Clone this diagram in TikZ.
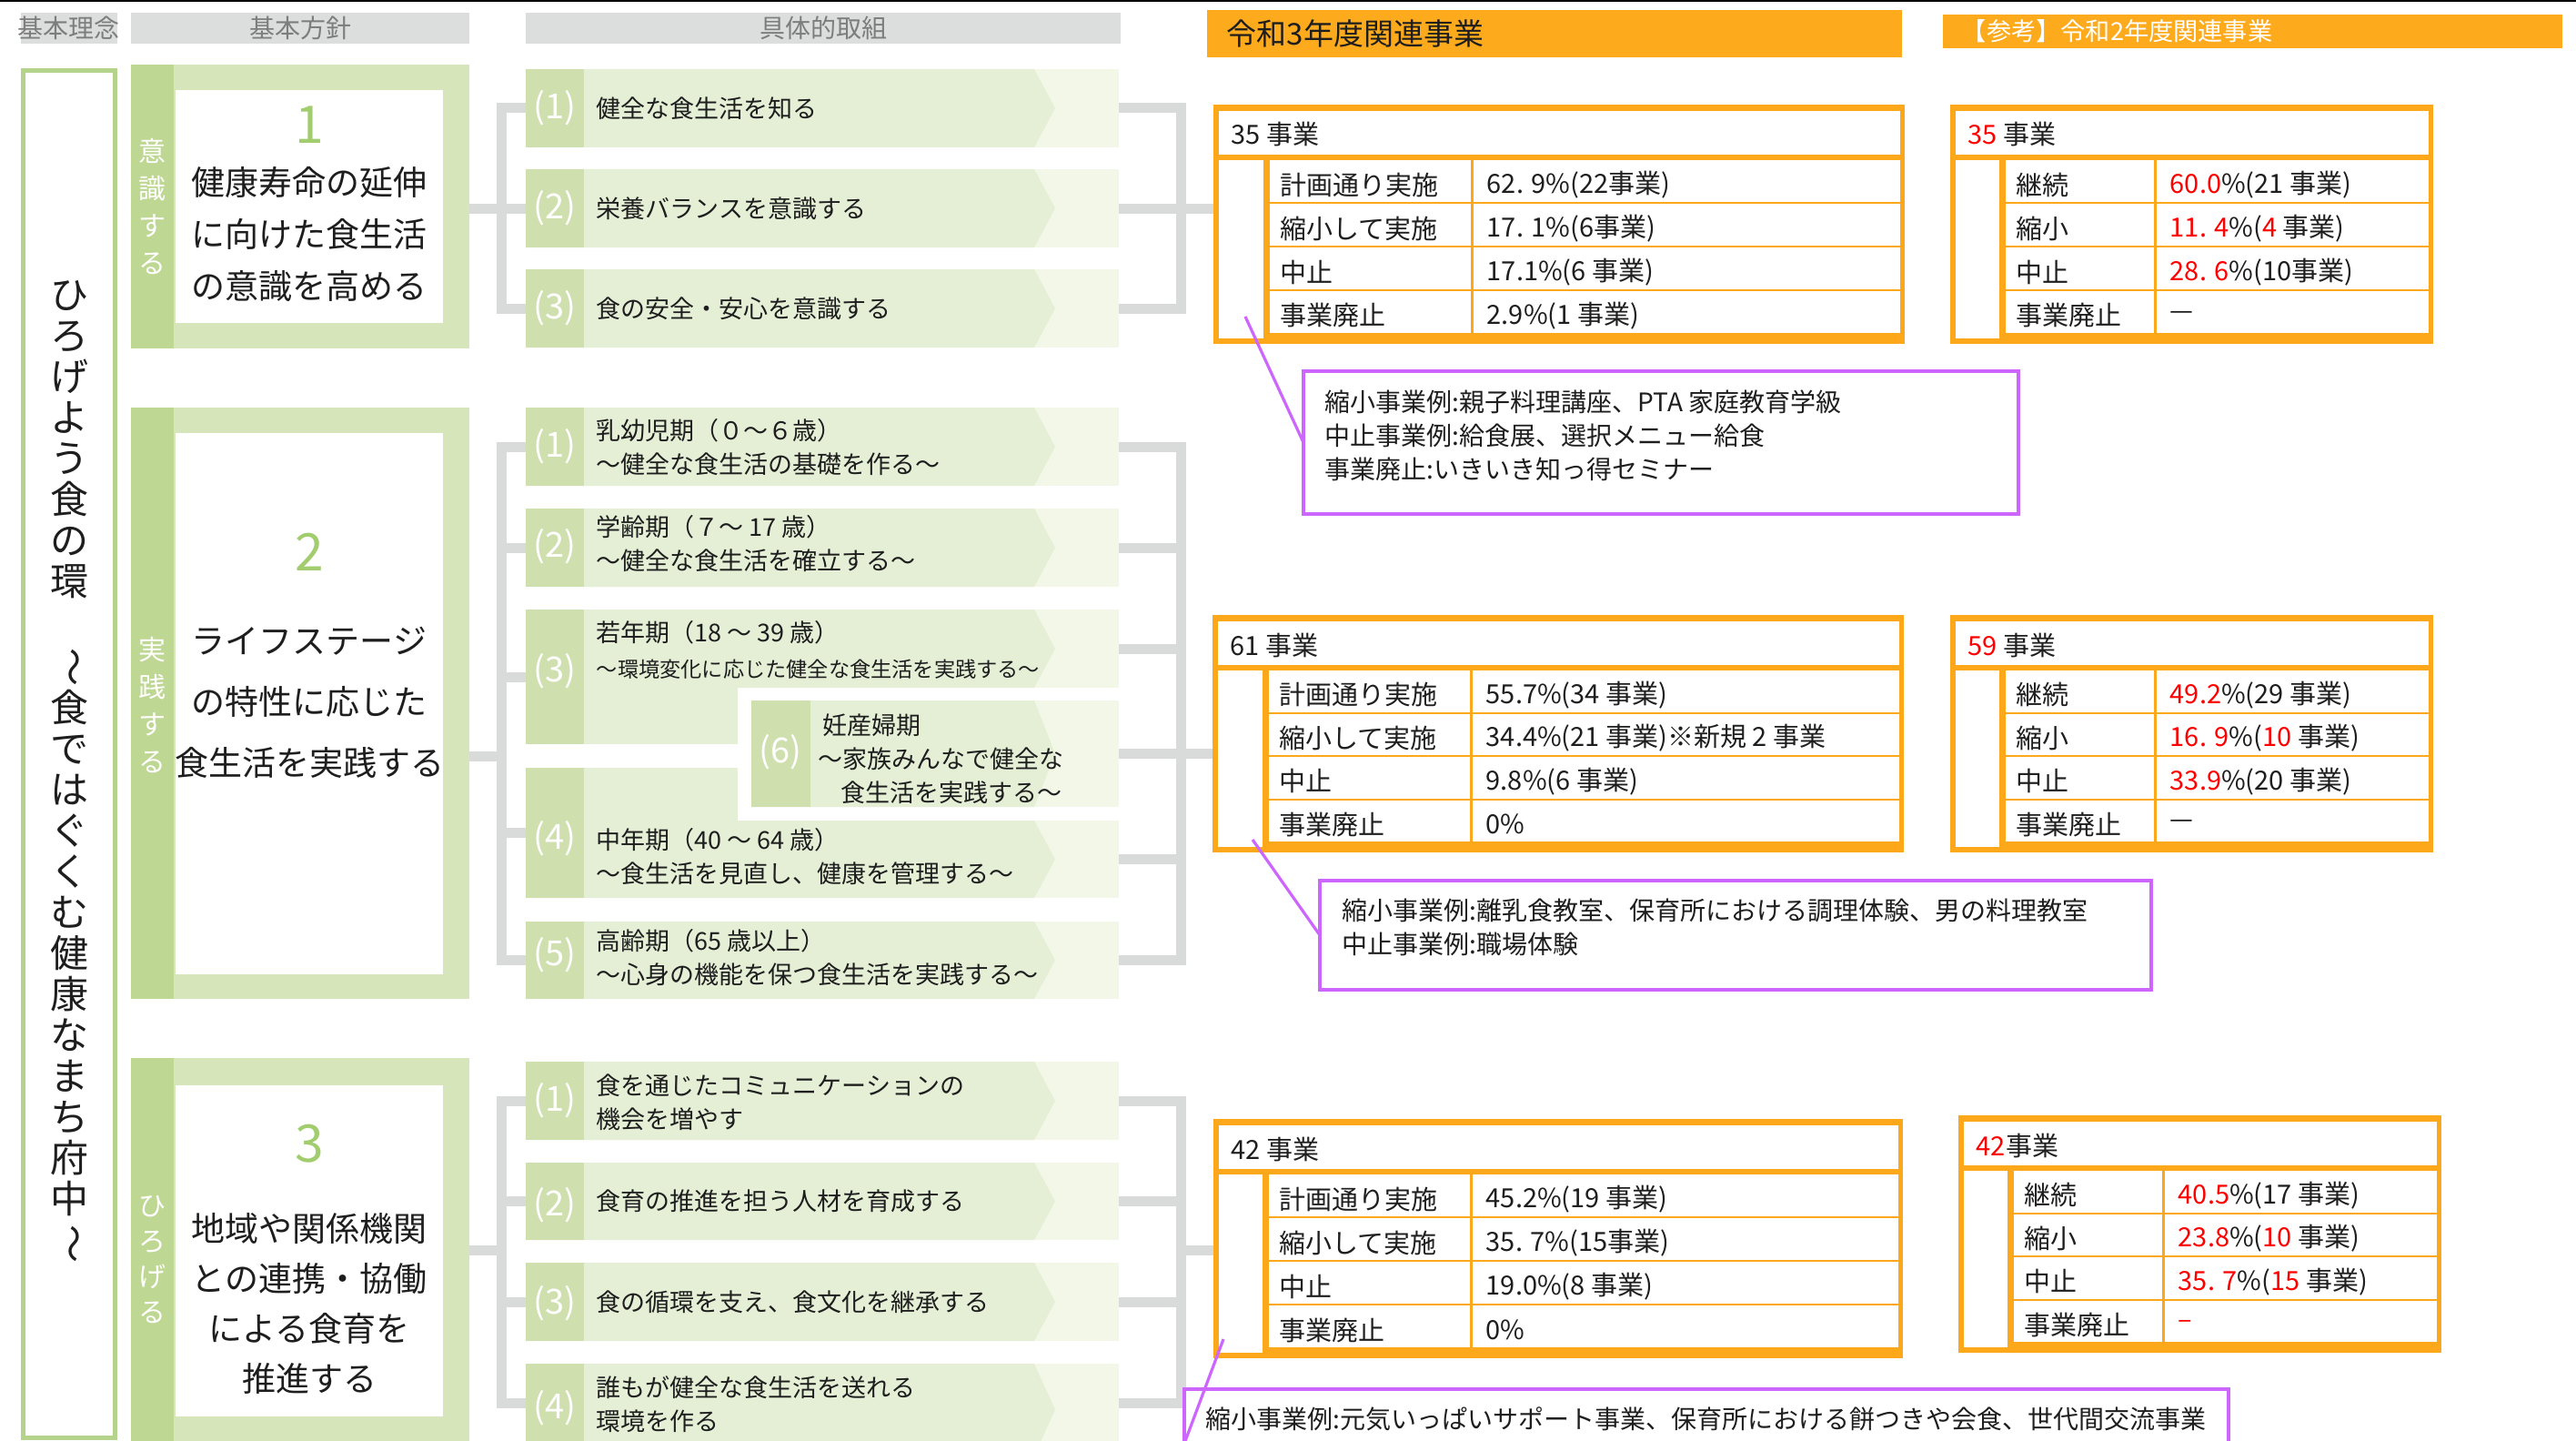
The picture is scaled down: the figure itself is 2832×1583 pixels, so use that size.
\documentclass[tikz,border=0pt]{standalone}
\usepackage{fontspec}
\usepackage{graphicx}
\setmainfont{Noto Sans CJK JP}
\usetikzlibrary{calc}
\definecolor{frameG}{HTML}{B4D38B}
\definecolor{stripG}{HTML}{BED792}
\definecolor{boxG}{HTML}{D6E6BA}
\definecolor{numG}{HTML}{A2CD6E}
\definecolor{itStrip}{HTML}{CFE0AE}
\definecolor{itBody}{HTML}{E4EFD6}
\definecolor{itTip}{HTML}{F2F7E8}
\definecolor{connG}{HTML}{D9DADA}
\definecolor{hdrG}{HTML}{DCDDDD}
\definecolor{hdrT}{HTML}{7D7D7D}
\definecolor{orgA}{HTML}{FDAA1C}
\definecolor{orgB}{HTML}{FDA71A}
\definecolor{purp}{HTML}{CC66FF}
\definecolor{redT}{HTML}{FF0000}
\definecolor{txt}{HTML}{1E1E1E}
\newcommand\myfs[2]{\fontsize{#1}{#2}\selectfont}
\newcommand\rd[1]{\textcolor{redT}{#1}}
\newcommand\vtilde{\rotatebox[origin=c]{-90}{～}}
\tikzset{
  slot/.style 2 args={rectangle, inner sep=0pt, outer sep=0pt,
    minimum width={(#1)*0.25pt}, minimum height={(#2)*0.25pt}, anchor=north west},
  conn/.style={draw=connG, line width=2.75pt},
  pline/.style={draw=purp, line width=0.8pt},
  itxt/.style={anchor=west, inner sep=0pt, align=left, font=\myfs{6.75pt}{9.25pt}, text=txt},
  inum/.style={inner sep=0pt, font=\myfs{9.5pt}{9.5pt}, text=white},
  ttxt/.style={anchor=west, inner sep=0pt, font=\myfs{7.25pt}{8pt}, text=txt},
  ctxt/.style={anchor=west, inner sep=0pt, align=left, font=\myfs{7pt}{9.25pt}, text=txt},
  htxt/.style={inner sep=0pt, font=\myfs{7pt}{8pt}, text=hdrT},
  btxt/.style={inner sep=0pt, align=center, text=txt},
  bnum/.style={inner sep=0pt, font=\myfs{14.25pt}{15pt}, text=numG},
  stxt/.style={inner sep=0pt, align=center, text=white},
}
\newcommand\itemfill[4]{%
  \fill[itTip] (#1,#2) rectangle (#3,#4);
  \pgfmathsetmacro\ymid{(#2+#4)/2}
  \fill[itBody] (#1,#2) -- (1137,#2) -- (1160,\ymid) -- (1137,#4) -- (#1,#4) -- cycle;
}
\newcommand\tbl[8]{%
  \fill[orgB] (#2,#3) rectangle (#4,#5);
  \fill[white] ({#2+6},{#3+7}) rectangle ({#4-5},{#3+55});
  \fill[white] ({#2+6},{#3+61}) rectangle (#6,{#5-6});
  \pgfmathsetmacro\rh{(#5-#3-79)/4}
  \foreach \k in {0,1,2,3}{%
    \pgfmathsetmacro\yt{#3+61+\k*(\rh+2)}%
    \pgfmathsetmacro\yb{\yt+\rh}%
    \fill[white] ({#6+7},\yt) rectangle (#7,\yb);
    \fill[white] ({#7+3},\yt) rectangle ({#4-5},\yb);
  }
  \node[slot={#4-#2}{#5-#3}] (#1) at (#2,#3) {};
  \node[ttxt] (#1h) at ({#2+19},{#3+33}) {#8};
}
\newcommand\trow[8]{%
  \pgfmathsetmacro\rh{(#3-#2-79)/4}
  \pgfmathsetmacro\yc{#2+61+#6*(\rh+2)+\rh/2+4}
  \node[ttxt] (#1l#6) at ({#4+18},\yc) {#7};
  \node[ttxt] (#1v#6) at ({#5+17},\yc) {#8};
}
\begin{document}
\begin{tikzpicture}[x=0.25pt,y=-0.25pt]
\useasboundingbox (0,0) rectangle (2832,1583);
\fill[white] (0,0) rectangle (2832,1583);
\fill[black] (0,0) rectangle (2832,2.5);

% ---------- column headers ----------
\node[slot={106}{34}, fill=hdrG] (h1) at (23,14) {};
\node[htxt] (h1t) at (h1.center) {基本理念};
\node[slot={372}{34}, fill=hdrG] (h2) at (144,14) {};
\node[htxt] (h2t) at (h2.center) {基本方針};
\node[slot={654}{34}, fill=hdrG] (h3) at (578,14) {};
\node[htxt] (h3t) at (h3.center) {具体的取組};
\node[slot={764}{52}, fill=orgA] (oh1) at (1327,11) {};
\node[anchor=west, inner sep=0pt, font=\myfs{8.25pt}{9pt}, text=txt] (oh1t) at (1348,37) {令和3年度関連事業};
\node[slot={681}{37}, fill=orgA] (oh2) at (2136,16) {};
\node[anchor=west, inner sep=0pt, font=\myfs{6.8pt}{7.5pt}, text=white] (oh2t) at (2156,34.5) {【参考】令和2年度関連事業};

% ---------- basic philosophy frame ----------
\draw[frameG, line width=1.25pt] (25.5,77.5) rectangle (126.5,1580.5);
\node[inner sep=0pt, align=center, font=\myfs{10.5pt}{11.25pt}, text=txt] (vt) at (76,848.5)
  {ひ\\ろ\\げ\\よ\\う\\食\\の\\環\\\phantom{環}\\\vtilde\\食\\で\\は\\ぐ\\く\\む\\健\\康\\な\\ま\\ち\\府\\中\\\vtilde};

% ---------- policy boxes ----------
\fill[boxG] (144,71) rectangle (516,383);
\fill[stripG] (144,71) rectangle (191,383);
\fill[white] (193,99) rectangle (487,355);
\node[slot={372}{312}] (b1) at (144,71) {};
\fill[boxG] (144,448) rectangle (516,1098);
\fill[stripG] (144,448) rectangle (191,1098);
\fill[white] (193,476) rectangle (487,1071);
\node[slot={372}{650}] (b2) at (144,448) {};
\fill[boxG] (144,1163) rectangle (516,1590);
\fill[stripG] (144,1163) rectangle (191,1590);
\fill[white] (193,1193) rectangle (487,1557);
\node[slot={372}{422}] (b3) at (144,1163) {};

\node[bnum] (n1) at (340,137) {1};
\node[bnum] (n2) at (340,607) {2};
\node[bnum] (n3) at (340,1257) {3};
\node[btxt, font=\myfs{9.25pt}{14.25pt}] (bt1) at (340,257.5) {健康寿命の延伸\\に向けた食生活\\の意識を高める};
\node[btxt, font=\myfs{9.25pt}{16.75pt}] (bt2) at (340,772) {ライフステージ\\の特性に応じた\\食生活を実践する};
\node[btxt, font=\myfs{9.25pt}{13.75pt}] (bt3) at (340,1433) {地域や関係機関\\との連携・協働\\による食育を\\推進する};
\node[stxt, font=\myfs{7.5pt}{10.25pt}] (s1) at (167,227) {意\\識\\す\\る};
\node[stxt, font=\myfs{7.5pt}{10.25pt}] (s2) at (167,775) {実\\践\\す\\る};
\node[stxt, font=\myfs{7.5pt}{9.75pt}] (s3) at (167,1385) {ひ\\ろ\\げ\\る};

% ---------- item slots ----------
\node[slot={652}{86}] (g1a) at (578,76) {};
\node[slot={652}{86}] (g1b) at (578,186) {};
\node[slot={652}{86}] (g1c) at (578,296) {};
\node[slot={652}{86}] (g2a) at (578,448) {};
\node[slot={652}{86}] (g2b) at (578,559) {};
\node[slot={652}{148}] (g2c) at (578,670) {};
\node[slot={404}{117}] (g2f) at (826,770) {};
\node[slot={652}{143}] (g2d) at (578,844) {};
\node[slot={652}{85}] (g2e) at (578,1013) {};
\node[slot={652}{86}] (g3a) at (578,1167) {};
\node[slot={652}{85}] (g3b) at (578,1278) {};
\node[slot={652}{86}] (g3c) at (578,1388) {};
\node[slot={652}{86}] (g3d) at (578,1499) {};
\coordinate (g2cR) at ($(g2c.north east)+(0,43)$);
\coordinate (g2dR) at ($(g2d.south east)+(0,-42.5)$);

% ---------- tables (slots first for connectors) ----------
\tbl{t1}{1334}{115}{2094}{378}{1389}{1617}{35 事業}
\tbl{t2}{2144}{115}{2675}{378}{2198}{2368}{\rd{35} 事業}
\tbl{t61}{1333}{676}{2093}{937}{1388}{1616}{61 事業}
\tbl{t59}{2144}{676}{2675}{937}{2198}{2368}{\rd{59} 事業}
\tbl{t42}{1334}{1230}{2092}{1493}{1388}{1616}{42 事業}
\tbl{t42r}{2153}{1226}{2684}{1487}{2207}{2377}{\rd{42}事業}

% ---------- gray connectors ----------
\coordinate (L1) at (551,229);
\coordinate (R1) at (1298,229);
\coordinate (L2) at (551,831);
\coordinate (R2) at (1298,831);
\coordinate (L3) at (551,1374);
\coordinate (R3) at (1298,1374);
\draw[conn] (g1a.west) -- (g1a.west -| L1) -- (g1c.west -| L1) -- (g1c.west);
\draw[conn] (b1.east |- g1b.west) -- (g1b.west);
\draw[conn] (g1a.east) -- (g1a.east -| R1) -- (g1c.east -| R1) -- (g1c.east);
\draw[conn] (g1b.east) -- (g1b.east -| t1.west);

\draw[conn] (g2a.west) -- (g2a.west -| L2) -- (g2e.west -| L2) -- (g2e.west);
\draw[conn] (g2b.west -| L2) -- (g2b.west);
\draw[conn] (g2c.west -| L2) -- (g2c.west);
\draw[conn] (g2d.west -| L2) -- (g2d.west);
\draw[conn] (b2.east |- L2) -- (L2);
\draw[conn] (g2a.east) -- (g2a.east -| R2) -- (g2e.east -| R2) -- (g2e.east);
\draw[conn] (g2b.east) -- (g2b.east -| R2);
\draw[conn] (g2cR) -- (g2cR -| R2);
\draw[conn] (g2dR) -- (g2dR -| R2);
\draw[conn] (g2f.east) -- (g2f.east -| t61.west);

\draw[conn] (g3a.west) -- (g3a.west -| L3) -- (g3d.west -| L3) -- (g3d.west);
\draw[conn] (g3b.west -| L3) -- (g3b.west);
\draw[conn] (g3c.west -| L3) -- (g3c.west);
\draw[conn] (b3.east |- L3) -- (L3);
\draw[conn] (g3a.east) -- (g3a.east -| R3) -- (g3d.east -| R3) -- (g3d.east);
\draw[conn] (g3b.east) -- (g3b.east -| R3);
\draw[conn] (g3c.east) -- (g3c.east -| R3);
\draw[conn] (R3) -- (R3 -| t42.west);

% ---------- item shapes ----------
\itemfill{578}{76}{1230}{162}
\itemfill{578}{186}{1230}{272}
\itemfill{578}{296}{1230}{382}
\fill[itStrip] (578,76) rectangle (642,162);
\fill[itStrip] (578,186) rectangle (642,272);
\fill[itStrip] (578,296) rectangle (642,382);

\itemfill{578}{448}{1230}{534}
\itemfill{578}{559}{1230}{645}
\itemfill{578}{670}{1230}{756}
\fill[itBody] (578,755) rectangle (811,818);
\itemfill{826}{770}{1230}{887}
\fill[itBody] (578,844) rectangle (811,903);
\itemfill{578}{902}{1230}{987}
\itemfill{578}{1013}{1230}{1098}
\fill[itStrip] (578,448) rectangle (642,534);
\fill[itStrip] (578,559) rectangle (642,645);
\fill[itStrip] (578,670) rectangle (642,818);
\fill[itStrip] (826,770) rectangle (891,887);
\fill[itStrip] (578,844) rectangle (642,987);
\fill[itStrip] (578,1013) rectangle (642,1098);

\itemfill{578}{1167}{1230}{1253}
\itemfill{578}{1278}{1230}{1363}
\itemfill{578}{1388}{1230}{1474}
\itemfill{578}{1499}{1230}{1600}
\fill[itStrip] (578,1167) rectangle (642,1253);
\fill[itStrip] (578,1278) rectangle (642,1363);
\fill[itStrip] (578,1388) rectangle (642,1474);
\fill[itStrip] (578,1499) rectangle (642,1600);

% ---------- item numbers ----------
\node[inum] (k11) at (610,119) {(1)};
\node[inum] (k12) at (610,229) {(2)};
\node[inum] (k13) at (610,339) {(3)};
\node[inum] (k21) at (610,491) {(1)};
\node[inum] (k22) at (610,601) {(2)};
\node[inum] (k23) at (610,738) {(3)};
\node[inum] (k26) at (858,827) {(6)};
\node[inum] (k24) at (610,922) {(4)};
\node[inum] (k25) at (610,1050) {(5)};
\node[inum] (k31) at (610,1210) {(1)};
\node[inum] (k32) at (610,1325) {(2)};
\node[inum] (k33) at (610,1433) {(3)};
\node[inum] (k34) at (610,1548) {(4)};

% ---------- item texts ----------
\node[itxt] (g1at) at (655,119) {健全な食生活を知る};
\node[itxt] (g1bt) at (655,229) {栄養バランスを意識する};
\node[itxt] (g1ct) at (655,339) {食の安全・安心を意識する};
\node[itxt] (g2at) at (655,491.5) {乳幼児期（０～６歳）\\～健全な食生活の基礎を作る～};
\node[itxt] (g2bt) at (655,598) {学齢期（７～ 17 歳）\\～健全な食生活を確立する～};
\node[itxt] (g2ct1) at (655,695) {若年期（18 ～ 39 歳）};
\node[itxt, font=\myfs{5.8pt}{7pt}] (g2ct2) at (655,736) {～環境変化に応じた健全な食生活を実践する～};
\node[itxt] (g2ft) at (899,834) {\hspace{1.2pt}妊産婦期\\～家族みんなで健全な\\\hspace{6.2pt}食生活を実践する～};
\node[itxt] (g2dt) at (655,941.5) {中年期（40 ～ 64 歳）\\～食生活を見直し、健康を管理する～};
\node[itxt] (g2et) at (655,1052.5) {高齢期（65 歳以上）\\～心身の機能を保つ食生活を実践する～};
\node[itxt] (g3at) at (655,1211.5) {食を通じたコミュニケーションの\\機会を増やす};
\node[itxt] (g3bt) at (655,1320.5) {食育の推進を担う人材を育成する};
\node[itxt] (g3ct) at (655,1431) {食の循環を支え、食文化を継承する};
\node[itxt] (g3dt) at (655,1543.5) {誰もが健全な食生活を送れる\\環境を作る};

% ---------- table rows ----------
\trow{t1}{115}{378}{1389}{1617}{0}{計画通り実施}{62. 9\%(22事業)}
\trow{t1}{115}{378}{1389}{1617}{1}{縮小して実施}{17. 1\%(6事業)}
\trow{t1}{115}{378}{1389}{1617}{2}{中止}{17.1\%(6 事業)}
\trow{t1}{115}{378}{1389}{1617}{3}{事業廃止}{2.9\%(1 事業)}
\trow{t2}{115}{378}{2198}{2368}{0}{継続}{\rd{60.0}\%(21 事業)}
\trow{t2}{115}{378}{2198}{2368}{1}{縮小}{\rd{11. 4}\%(\rd{4} 事業)}
\trow{t2}{115}{378}{2198}{2368}{2}{中止}{\rd{28. 6}\%(10事業)}
\trow{t2}{115}{378}{2198}{2368}{3}{事業廃止}{—}
\trow{t61}{676}{937}{1388}{1616}{0}{計画通り実施}{55.7\%(34 事業)}
\trow{t61}{676}{937}{1388}{1616}{1}{縮小して実施}{34.4\%(21 事業)※新規 2 事業}
\trow{t61}{676}{937}{1388}{1616}{2}{中止}{9.8\%(6 事業)}
\trow{t61}{676}{937}{1388}{1616}{3}{事業廃止}{0\%}
\trow{t59}{676}{937}{2198}{2368}{0}{継続}{\rd{49.2}\%(29 事業)}
\trow{t59}{676}{937}{2198}{2368}{1}{縮小}{\rd{16. 9}\%(\rd{10} 事業)}
\trow{t59}{676}{937}{2198}{2368}{2}{中止}{\rd{33.9}\%(20 事業)}
\trow{t59}{676}{937}{2198}{2368}{3}{事業廃止}{—}
\trow{t42}{1230}{1493}{1388}{1616}{0}{計画通り実施}{45.2\%(19 事業)}
\trow{t42}{1230}{1493}{1388}{1616}{1}{縮小して実施}{35. 7\%(15事業)}
\trow{t42}{1230}{1493}{1388}{1616}{2}{中止}{19.0\%(8 事業)}
\trow{t42}{1230}{1493}{1388}{1616}{3}{事業廃止}{0\%}
\trow{t42r}{1226}{1487}{2207}{2377}{0}{継続}{\rd{40.5}\%(17 事業)}
\trow{t42r}{1226}{1487}{2207}{2377}{1}{縮小}{\rd{23.8}\%(\rd{10} 事業)}
\trow{t42r}{1226}{1487}{2207}{2377}{2}{中止}{\rd{35. 7}\%(\rd{15} 事業)}
\trow{t42r}{1226}{1487}{2207}{2377}{3}{事業廃止}{\rd{–}}

% ---------- callouts ----------
\node[slot={786}{157}, draw=purp, line width=1pt] (c1) at (1433,408) {};
\node[ctxt] (c1t) at (1456,479) {縮小事業例:親子料理講座、PTA 家庭教育学級\\中止事業例:給食展、選択メニュー給食\\事業廃止:いきいき知っ得セミナー};
\node[slot={914}{120}, draw=purp, line width=1pt] (c2) at (1451,968) {};
\node[ctxt] (c2t) at (1475,1019) {縮小事業例:離乳食教室、保育所における調理体験、男の料理教室\\中止事業例:職場体験};
\node[slot={1148}{120}, draw=purp, line width=1pt] (c3) at (1302,1527) {};
\node[ctxt] (c3t) at (1325,1560) {縮小事業例:元気いっぱいサポート事業、保育所における餅つきや会食、世代間交流事業};

\coordinate (p1a) at (1369,348);
\coordinate (p2a) at (1377,923);
\coordinate (p3a) at (1345,1472);
\coordinate (p3b) at (1297,1600);
\draw[pline] (p1a) -- (c1.west);
\draw[pline] (p2a) -- (c2.west);
\draw[pline] (p3a) -- (p3b);
\end{tikzpicture}
\end{document}
